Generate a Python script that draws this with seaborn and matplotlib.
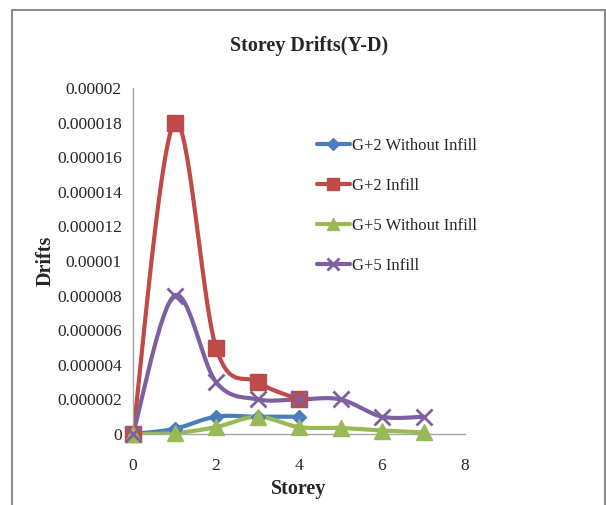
import matplotlib

matplotlib.use("Agg")
import matplotlib.pyplot as plt
from matplotlib.patches import Rectangle
import seaborn as sns
import numpy as np
import pandas as pd

# Storey drift values
storey_g2 = [0, 1, 2, 3, 4]
storey_g5 = [0, 1, 2, 3, 4, 5, 6, 7]
g2_without = [0, 3e-7, 1.0e-6, 1.0e-6, 1.0e-6]
g2_infill = [0, 1.8e-5, 5.0e-6, 3.0e-6, 2.0e-6]
g5_without = [0, 5e-8, 4e-7, 1.0e-6, 4e-7, 3.5e-7, 2e-7, 1e-7]
g5_infill = [0, 8.0e-6, 3.0e-6, 2.0e-6, 2.0e-6, 2.0e-6, 1.0e-6, 1.0e-6]

series_names = ["G+2 Without Infill", "G+2 Infill", "G+5 Without Infill", "G+5 Infill"]
series_x = [storey_g2, storey_g2, storey_g5, storey_g5]
series_y = [g2_without, g2_infill, g5_without, g5_infill]
colors = ["#4A7EBB", "#BE4B48", "#98B954", "#7D60A0"]
markers = ["D", "s", "^", "x"]
msizes = [7, 11, 11, 11]


def smooth(x, y, n=30):
    # excel-like smoothed line (catmull-rom style bezier between points)
    x = np.asarray(x, float)
    y = np.asarray(y, float)
    px, py = [], []
    for i in range(len(x) - 1):
        x0, y0 = (x[i - 1], y[i - 1]) if i > 0 else (x[i], y[i])
        x3, y3 = (x[i + 2], y[i + 2]) if i + 2 < len(x) else (x[i + 1], y[i + 1])
        x1, y1, x2, y2 = x[i], y[i], x[i + 1], y[i + 1]
        c1x, c1y = x1 + (x2 - x0) / 6, y1 + (y2 - y0) / 6
        c2x, c2y = x2 - (x3 - x1) / 6, y2 - (y3 - y1) / 6
        t = np.linspace(0, 1, n)
        b = [(1 - t) ** 3, 3 * (1 - t) ** 2 * t, 3 * (1 - t) * t ** 2, t ** 3]
        px.extend(b[0] * x1 + b[1] * c1x + b[2] * c2x + b[3] * x2)
        py.extend(b[0] * y1 + b[1] * c1y + b[2] * c2y + b[3] * y2)
    return np.array(px), np.array(py)


sns.set_style("white")
plt.rcParams["font.family"] = ["Liberation Serif", "DejaVu Serif"]

fig = plt.figure(figsize=(6.06, 5.05), dpi=100)
ax = fig.add_axes([133 / 606, 1 - 434 / 505, 332 / 606, 346 / 505])

# outer chart border
fig.patches.append(Rectangle((12 / 606, -0.05), 593 / 606, 1.05 - 10 / 505,
                             transform=fig.transFigure, fill=False,
                             edgecolor="#8c8c8c", linewidth=1.5))

handles = []
for name, xs, ys, c, m, ms in zip(series_names, series_x, series_y, colors, markers, msizes):
    sx, sy = smooth(xs, ys)
    curve = pd.DataFrame({"Storey": sx, "Drifts": sy})
    sns.lineplot(data=curve, x="Storey", y="Drifts", ax=ax, color=c, lw=3,
                 sort=False, estimator=None, zorder=2)
    pts = pd.DataFrame({"Storey": xs, "Drifts": ys})
    ax.plot(pts["Storey"], pts["Drifts"], ls="none", marker=m, ms=ms, color=c,
            mew=2 if m == "x" else 1, zorder=3, clip_on=False)
    h, = ax.plot([], [], color=c, lw=3, marker=m, ms=ms * 0.85, mew=2 if m == "x" else 1)
    handles.append(h)

ax.set_xlim(0, 8)
ax.set_ylim(0, 0.00002)
ax.set_xticks([0, 2, 4, 6, 8])
ax.set_yticks(np.arange(0, 0.0000201, 0.000002))
ax.set_yticklabels(["0", "0.000002", "0.000004", "0.000006", "0.000008", "0.00001",
                    "0.000012", "0.000014", "0.000016", "0.000018", "0.00002"])
ax.tick_params(labelsize=12.5, length=0, pad=8)
ax.tick_params(axis="x", pad=17)
for s in ["top", "right"]:
    ax.spines[s].set_visible(False)
for s in ["left", "bottom"]:
    ax.spines[s].set_color("#a6a6a6")
    ax.spines[s].set_linewidth(1)

ax.set_xlabel("Storey", fontsize=14.5, fontweight="bold", labelpad=4)
ax.set_ylabel("Drifts", fontsize=14.5, fontweight="bold", labelpad=1)
fig.text(0.51, 1 - 46 / 505, "Storey Drifts(Y-D)", ha="center", va="center",
         fontsize=14.5, fontweight="bold")

fig.legend(handles, series_names, loc="upper left", bbox_to_anchor=(310 / 606, 1 - 131 / 505),
           frameon=False, fontsize=12, handlelength=2.0, handletextpad=0.1,
           labelspacing=1.45, borderaxespad=0)

plt.savefig("out.png", dpi=100)
plt.close(fig)
